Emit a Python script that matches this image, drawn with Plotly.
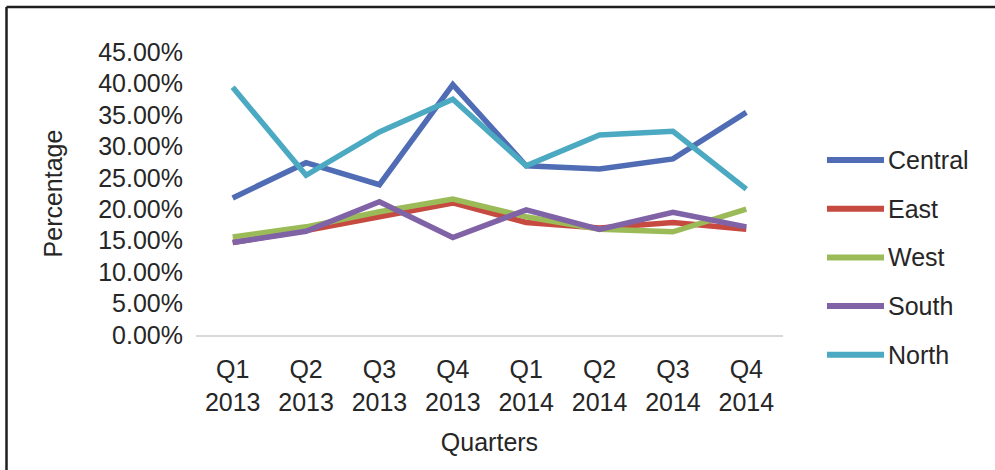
import plotly.graph_objects as go

# Quarterly share by region
quarters = ["Q1 2013", "Q2 2013", "Q3 2013", "Q4 2013",
            "Q1 2014", "Q2 2014", "Q3 2014", "Q4 2014"]
tick_labels = ["Q1<br>2013", "Q2<br>2013", "Q3<br>2013", "Q4<br>2013",
               "Q1<br>2014", "Q2<br>2014", "Q3<br>2014", "Q4<br>2014"]

central = [0.218, 0.274, 0.239, 0.398, 0.269, 0.264, 0.280, 0.354]
east = [0.147, 0.166, 0.188, 0.210, 0.179, 0.170, 0.179, 0.168]
west = [0.156, 0.172, 0.196, 0.216, 0.188, 0.168, 0.164, 0.200]
south = [0.147, 0.165, 0.212, 0.155, 0.199, 0.168, 0.195, 0.172]
north = [0.394, 0.254, 0.323, 0.375, 0.269, 0.318, 0.324, 0.232]

series_names = ["Central", "East", "West", "South", "North"]
series_values = [central, east, west, south, north]
series_colors = ["#4F6CB4", "#C64A40", "#9BBB59", "#8063A6", "#4BA9C2"]

FONT = "Liberation Sans, Arial, sans-serif"
TEXT = "#262626"
W, H = 995, 470
ML, MR, MT, MB = 196, 212, 52, 135
PW, PH = W - ML - MR, H - MT - MB


def px_x(px):
    return (px - ML) / PW


def px_y(py):
    return (H - MB - py) / PH


fig = go.Figure()
for name, vals, col in zip(series_names, series_values, series_colors):
    fig.add_trace(go.Scatter(
        x=quarters, y=vals, name=name, mode="lines",
        line=dict(color=col, width=5.5), showlegend=False,
    ))

shapes = []
annotations = []
# legend drawn beside the plot
legend_top, legend_step = 160, 48.7
for i, (name, col) in enumerate(zip(series_names, series_colors)):
    yy = px_y(legend_top + i * legend_step)
    shapes.append(dict(type="line", xref="paper", yref="paper",
                       x0=px_x(827), x1=px_x(884), y0=yy, y1=yy,
                       line=dict(color=col, width=6)))
    annotations.append(dict(xref="paper", yref="paper", x=px_x(886), y=yy,
                            text=name, showarrow=False, xanchor="left",
                            yanchor="middle",
                            font=dict(family=FONT, size=25, color=TEXT)))

# chart frame (top and left edges)
frame = dict(color="#1E1E1E", width=2.5)
shapes.append(dict(type="line", xref="paper", yref="paper",
                   x0=px_x(6.5), x1=px_x(1000), y0=px_y(7), y1=px_y(7), line=frame))
shapes.append(dict(type="line", xref="paper", yref="paper",
                   x0=px_x(6.5), x1=px_x(6.5), y0=px_y(7), y1=px_y(480), line=frame))

fig.update_layout(
    width=W, height=H,
    margin=dict(l=ML, r=MR, t=MT, b=MB),
    paper_bgcolor="white", plot_bgcolor="white",
    font=dict(family=FONT, size=25, color=TEXT),
    shapes=shapes, annotations=annotations,
    xaxis=dict(
        type="category", tickmode="array", tickvals=quarters, ticktext=tick_labels,
        range=[-0.5, len(quarters) - 0.5],
        showgrid=False, showline=True, linecolor="#D9D9D9", linewidth=2,
        ticks="", zeroline=False, ticklabelstandoff=11,
        title=dict(text="Quarters", standoff=19, font=dict(size=25)),
        tickfont=dict(size=25),
    ),
    yaxis=dict(
        range=[0, 0.45], dtick=0.05, tickformat=".2%",
        showgrid=False, showline=False, zeroline=False, ticks="",
        ticklabelstandoff=12,
        title=dict(text="Percentage", standoff=28, font=dict(size=25)),
        tickfont=dict(size=25),
    ),
)

fig.write_html("out.html")
